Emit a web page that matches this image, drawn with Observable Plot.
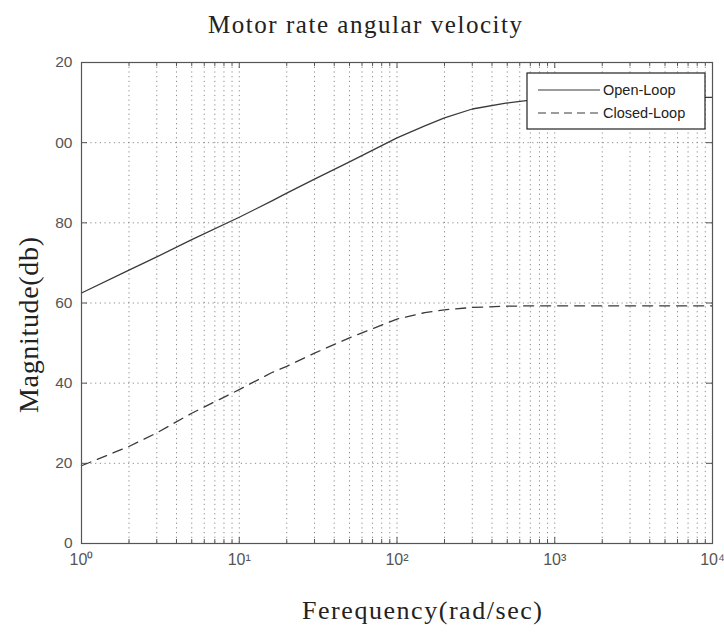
<!DOCTYPE html>
<html>
<head>
<meta charset="utf-8">
<script src="https://cdn.jsdelivr.net/npm/d3@7"></script>
<script src="https://cdn.jsdelivr.net/npm/@observablehq/plot@0.6"></script>
<style>
  html, body { margin: 0; padding: 0; background: #fff; }
</style>
</head>
<body>
<div id="chart"></div>
<script>
const titleText = "Motor rate angular velocity";
const xLabelText = "Ferequency(rad/sec)";
const yLabelText = "Magnitude(db)";

const freq = [1, 2, 3, 5, 10, 16, 20, 30, 50, 100, 150, 200, 300, 500, 700, 1000, 2000, 5000, 10000];
const openLoop = [62.5, 68.2, 71.5, 75.8, 81.4, 85.4, 87.4, 90.9, 95.2, 101.2, 104.2, 106.2, 108.4, 109.9, 110.6, 111.0, 111.2, 111.3, 111.3];
const closedLoop = [19.4, 24.2, 27.6, 32.5, 38.4, 42.6, 44.2, 47.5, 51.3, 56.0, 57.6, 58.3, 58.9, 59.2, 59.3, 59.3, 59.3, 59.3, 59.3];

const seriesNames = ["Open-Loop", "Closed-Loop"];
const xMajor = [1, 10, 100, 1000, 10000];
const xMajorLabels = ["10⁰", "10¹", "10²", "10³", "10⁴"];
const yTicks = [0, 20, 40, 60, 80, 100, 120];
const yTickLabels = ["0", "20", "40", "60", "80", "00", "20"];

const xMinor = [];
for (let d = 0; d < 4; d++) for (let m = 2; m <= 9; m++) xMinor.push(m * Math.pow(10, d));
const xAll = xMajor.concat(xMinor);

const openData = freq.map((f, i) => ({f, v: openLoop[i]}));
const closedData = freq.map((f, i) => ({f, v: closedLoop[i]}));

const W = 724, H = 635;
const mL = 81, mR = 12, mT = 62, mB = 92;
const pw = W - mL - mR, ph = H - mT - mB;
const gridColor = "#8a8a8a";
const ink = "#444";
const serif = "Liberation Serif, DejaVu Serif, serif";

const plot = Plot.plot({
  width: W,
  height: H,
  marginLeft: mL,
  marginRight: mR,
  marginTop: mT,
  marginBottom: mB,
  style: {fontFamily: "Liberation Sans, Arial, sans-serif", background: "#fff", color: ink},
  x: {type: "log", domain: [1, 10000], axis: null},
  y: {domain: [0, 120], axis: null},
  marks: [
    Plot.gridX(xAll, {stroke: gridColor, strokeOpacity: 1, strokeDasharray: "1.2,3.5", strokeWidth: 1}),
    Plot.gridY(yTicks, {stroke: gridColor, strokeOpacity: 1, strokeDasharray: "1.2,3.5", strokeWidth: 1}),
    // inward ticks, bottom and top
    Plot.tickX(xMajor, {x: d => d, stroke: "#555", insetTop: ph - 6}),
    Plot.tickX(xMinor, {x: d => d, stroke: "#555", insetTop: ph - 4}),
    Plot.tickX(xMajor, {x: d => d, stroke: "#555", insetBottom: ph - 6}),
    Plot.tickX(xMinor, {x: d => d, stroke: "#555", insetBottom: ph - 4}),
    // inward ticks, left and right
    Plot.tickY(yTicks, {y: d => d, stroke: "#555", insetRight: pw - 6}),
    Plot.tickY(yTicks, {y: d => d, stroke: "#555", insetLeft: pw - 6}),
    Plot.line(openData, {x: "f", y: "v", stroke: "#3a3a3a", strokeWidth: 1.3}),
    Plot.line(closedData, {x: "f", y: "v", stroke: "#3a3a3a", strokeWidth: 1.3, strokeDasharray: "10,7"}),
    Plot.frame({stroke: "#555", strokeWidth: 1.2}),
    // tick labels
    Plot.text(yTicks, {y: d => d, text: (d, i) => yTickLabels[i], frameAnchor: "left", textAnchor: "end", dx: -9, fontSize: 15.5, fill: "#555"}),
    Plot.text(xMajor, {x: d => d, text: (d, i) => xMajorLabels[i], frameAnchor: "bottom", dy: 21, fontSize: 16, fill: "#555"})
  ]
});

const svg = d3.select(plot);
// titles (text kept as real SVG text)
svg.append("text").attr("x", 365).attr("y", 33).attr("text-anchor", "middle")
  .attr("font-family", serif).attr("font-size", 25).attr("textLength", 314).attr("lengthAdjust", "spacing")
  .attr("fill", "#222").text(titleText);
svg.append("text").attr("x", 422).attr("y", 619).attr("text-anchor", "middle")
  .attr("font-family", serif).attr("font-size", 26).attr("textLength", 240).attr("lengthAdjust", "spacing")
  .attr("fill", "#222").text(xLabelText);
svg.append("text").attr("transform", "translate(38,325) rotate(-90)").attr("text-anchor", "middle")
  .attr("font-family", serif).attr("font-size", 28).attr("textLength", 176).attr("lengthAdjust", "spacing")
  .attr("fill", "#222").text(yLabelText);

// legend box
const lg = svg.append("g").attr("transform", "translate(527,73)");
lg.append("rect").attr("width", 178).attr("height", 56).attr("fill", "#fff").attr("stroke", "#222").attr("stroke-width", 1.2);
const styles = [null, "8,5"];
seriesNames.forEach((name, i) => {
  const y = 17 + i * 23;
  lg.append("line").attr("x1", 11).attr("x2", 73).attr("y1", y).attr("y2", y)
    .attr("stroke", "#3a3a3a").attr("stroke-width", 1.2).attr("stroke-dasharray", styles[i]);
  lg.append("text").attr("x", 76).attr("y", y).attr("dy", "0.35em").attr("text-anchor", "start")
    .attr("font-size", 14.5).attr("fill", "#222").attr("font-family", "Liberation Sans, Arial, sans-serif")
    .text(name);
});

document.getElementById("chart").appendChild(plot);
</script>
</body>
</html>
